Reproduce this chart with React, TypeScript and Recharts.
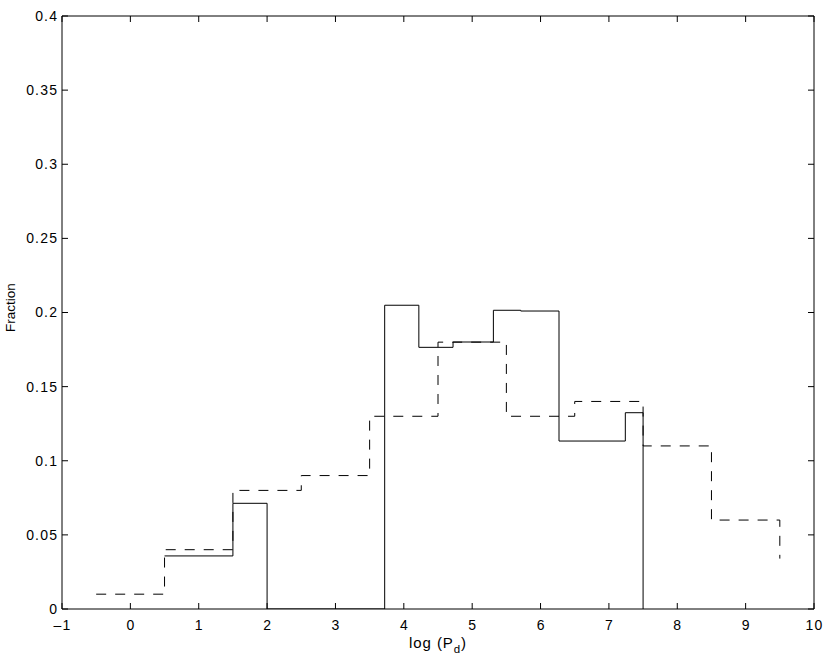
import React from 'react';
import { LineChart, Line, XAxis, YAxis } from 'recharts';

// Dashed histogram (step edges and heights)
const dashedX = [-0.5, 0.5, 1.5, 2.5, 3.5, 4.5, 5.5, 6.5, 7.5, 8.5, 9.5];
const dashedY = [0.01, 0.04, 0.08, 0.09, 0.13, 0.18, 0.13, 0.14, 0.11, 0.06, 0.034];

// Solid histogram (step edges and heights)
const solidX = [0.5, 1.5, 2.0, 3.72, 4.22, 4.72, 5.31, 5.71, 6.27, 7.24, 7.5];
const solidY = [0.0358, 0.0713, 0, 0.2049, 0.1765, 0.1801, 0.2015, 0.201, 0.1133, 0.1324, 0];

const xTicks = [-1, 0, 1, 2, 3, 4, 5, 6, 7, 8, 9, 10];
const yTicks = [0, 0.05, 0.1, 0.15, 0.2, 0.25, 0.3, 0.35, 0.4];

const dashedData = dashedX.map((x, i) => ({ x, y: dashedY[i] }));
const solidData = solidX.map((x, i) => ({ x, y: solidY[i] }));

const FONT = '"Liberation Sans", Arial, Helvetica, sans-serif';
const TICK_LEN = 6;
const LS = 1.2;

const fmtX = (v: number) => (v < 0 ? '\u2013' + Math.abs(v) : String(v));

const BottomTick = (props: any) => {
  const { x, y, payload } = props;
  return (
    <g>
      <line x1={x} x2={x} y1={y} y2={y - TICK_LEN} stroke="#000" strokeWidth={1} />
      <text
        x={x + LS / 2}
        y={y + 11}
        dy="0.71em"
        textAnchor="middle"
        fontSize={14}
        letterSpacing={LS}
        fontFamily={FONT}
        fill="#000"
      >
        {fmtX(payload.value)}
      </text>
    </g>
  );
};

const TopTick = (props: any) => {
  const { x, y } = props;
  return <line x1={x} x2={x} y1={y} y2={y + TICK_LEN} stroke="#000" strokeWidth={1} />;
};

const LeftTick = (props: any) => {
  const { x, y, payload } = props;
  return (
    <g>
      <line x1={x} x2={x + TICK_LEN} y1={y} y2={y} stroke="#000" strokeWidth={1} />
      <text
        x={x - 5 + LS}
        y={y}
        dy="0.355em"
        textAnchor="end"
        fontSize={14}
        letterSpacing={LS}
        fontFamily={FONT}
        fill="#000"
      >
        {String(payload.value)}
      </text>
    </g>
  );
};

const RightTick = (props: any) => {
  const { x, y } = props;
  return <line x1={x} x2={x - TICK_LEN} y1={y} y2={y} stroke="#000" strokeWidth={1} />;
};

const XLabel = (props: any) => {
  const vb = props && props.viewBox ? props.viewBox : { x: 62, y: 609, width: 752, height: 30 };
  const cx = vb.x + vb.width / 2;
  const y = vb.y + 38.7;
  return (
    <text x={cx} y={y} textAnchor="middle" fontSize={15} letterSpacing={0.9} fontFamily={FONT} fill="#000">
      log (P
      <tspan fontSize={11.5} dy={5}>d</tspan>
      <tspan dy={-5}>)</tspan>
    </text>
  );
};

const YLabel = (props: any) => {
  const vb = props && props.viewBox ? props.viewBox : { x: 0, y: 16, width: 62, height: 593 };
  const x = vb.x + 14.5;
  const y = vb.y + vb.height / 2 - 5;
  return (
    <text
      x={x}
      y={y}
      textAnchor="middle"
      fontSize={13.5}
      fontFamily={FONT}
      fill="#000"
      transform={`rotate(-90, ${x}, ${y})`}
    >
      Fraction
    </text>
  );
};

export default function App() {
  return (
    <div style={{ position: 'absolute', left: 0, top: 0, width: 830, height: 659, background: '#fff' }}>
      <LineChart width={830} height={659} margin={{ top: 15, right: 15, bottom: 20, left: 0 }}>
        <XAxis
          xAxisId="bottom"
          dataKey="x"
          type="number"
          domain={[-1, 10]}
          ticks={xTicks}
          interval={0}
          allowDataOverflow
          height={30}
          tickSize={0}
          tickMargin={0}
          tickLine={false}
          tick={<BottomTick />}
          stroke="#000"
          label={<XLabel />}
        />
        <XAxis
          xAxisId="top"
          orientation="top"
          dataKey="x"
          type="number"
          domain={[-1, 10]}
          ticks={xTicks}
          interval={0}
          allowDataOverflow
          height={1}
          tickSize={0}
          tickMargin={0}
          tickLine={false}
          tick={<TopTick />}
          stroke="#000"
        />
        <YAxis
          yAxisId="left"
          type="number"
          domain={[0, 0.4]}
          ticks={yTicks}
          interval={0}
          allowDataOverflow
          width={62}
          tickSize={0}
          tickMargin={0}
          tickLine={false}
          tick={<LeftTick />}
          stroke="#000"
          label={<YLabel />}
        />
        <YAxis
          yAxisId="right"
          orientation="right"
          type="number"
          domain={[0, 0.4]}
          ticks={yTicks}
          interval={0}
          allowDataOverflow
          width={1}
          tickSize={0}
          tickMargin={0}
          tickLine={false}
          tick={<RightTick />}
          stroke="#000"
        />
        <Line
          xAxisId="top"
          yAxisId="right"
          data={solidData}
          dataKey="y"
          type="stepAfter"
          stroke="none"
          strokeWidth={0}
          dot={false}
          activeDot={false}
          legendType="none"
          isAnimationActive={false}
        />
        <Line
          xAxisId="bottom"
          yAxisId="left"
          data={dashedData}
          dataKey="y"
          type="stepAfter"
          stroke="#000"
          strokeWidth={1}
          strokeDasharray="10 9"
          dot={false}
          activeDot={false}
          isAnimationActive={false}
        />
        <Line
          xAxisId="bottom"
          yAxisId="left"
          data={solidData}
          dataKey="y"
          type="stepAfter"
          stroke="#000"
          strokeWidth={1}
          dot={false}
          activeDot={false}
          isAnimationActive={false}
        />
      </LineChart>
    </div>
  );
}
